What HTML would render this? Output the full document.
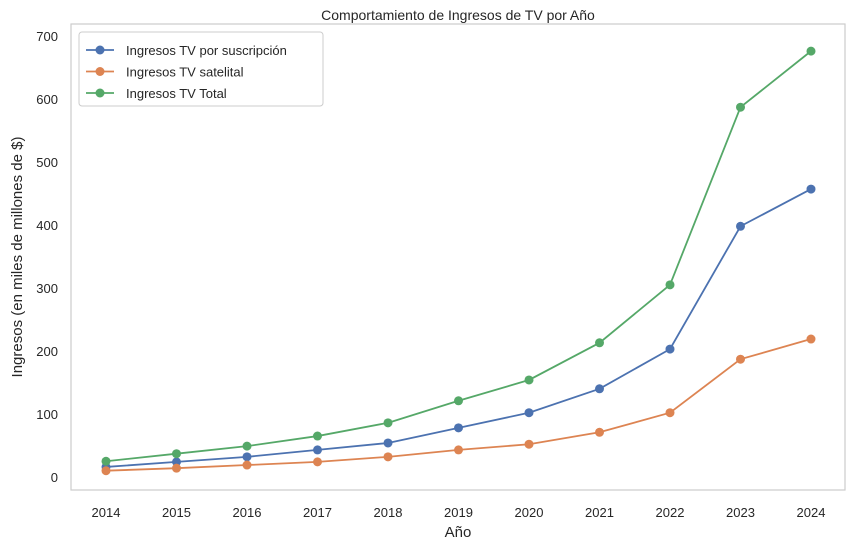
<!DOCTYPE html>
<html><head><meta charset="utf-8"><style>
body{margin:0;background:#fff;}
svg text{font-family:"Liberation Sans","DejaVu Sans",sans-serif;fill:#262626;}
</style></head><body>
<svg id="chart" width="855" height="550" xmlns="http://www.w3.org/2000/svg">
<rect x="0" y="0" width="855" height="550" fill="#fff"/>
<rect x="71" y="24" width="774" height="466" fill="#fff" stroke="#cccccc" stroke-width="1.2"/>
<text x="458" y="20" font-size="14" text-anchor="middle">Comportamiento de Ingresos de TV por Año</text>
<text x="458" y="537" font-size="15" text-anchor="middle">Año</text>
<text transform="translate(22,257) rotate(-90)" font-size="15" text-anchor="middle">Ingresos (en miles de millones de $)</text>
<g id="ticks"></g><g id="series"></g>
<g>
<rect x="79" y="32" width="244" height="74" rx="3" fill="#fff" stroke="#cccccc" stroke-width="1"/>
<g id="legend"></g>
</g>
</svg>
<script>
const years=[2014,2015,2016,2017,2018,2019,2020,2021,2022,2023,2024];
const suscripcion=[16,24,32,43,54,78,102,140,203,398,457];
const satelital=[10,14,19,24,32,43,52,71,102,187,219];
const total=[25,37,49,65,86,121,154,213,305,587,676];
const yTicks=[0,100,200,300,400,500,600,700];
const seriesNames=["Ingresos TV por suscripción","Ingresos TV satelital","Ingresos TV Total"];
const colors=["#4c72b0","#dd8452","#55a868"];
const NS="http://www.w3.org/2000/svg";
function xs(i){return 106+(811-106)*(years[i]-years[0])/(years[years.length-1]-years[0]);}
function ys(v){return 477-v*(477-36)/700;}
function mk(t,a,p){const e=document.createElementNS(NS,t);for(const k in a)e.setAttribute(k,a[k]);p.appendChild(e);return e;}
const tk=document.getElementById('ticks');
years.forEach((y,i)=>{const t=mk('text',{x:xs(i),y:517,'font-size':13,'text-anchor':'middle'},tk);t.textContent=y;

});
yTicks.forEach(v=>{const t=mk('text',{x:58,y:ys(v)+5,'font-size':13,'text-anchor':'end'},tk);t.textContent=v;

});
const sg=document.getElementById('series');
[suscripcion,satelital,total].forEach((d,s)=>{
const g=mk('g',{},sg);


mk('polyline',{points:d.map((v,i)=>xs(i)+','+ys(v)).join(' '),fill:'none',stroke:colors[s],'stroke-width':1.8},g);
d.forEach((v,i)=>{const c=mk('circle',{cx:xs(i),cy:ys(v),r:4.5,fill:colors[s]},g);

});
});
const lg=document.getElementById('legend');
seriesNames.forEach((n,s)=>{const y=50+s*21.5;
const g=mk('g',{},lg);


mk('line',{x1:86,y1:y,x2:114,y2:y,stroke:colors[s],'stroke-width':1.8},g);
mk('circle',{cx:100,cy:y,r:4.5,fill:colors[s]},g);
const t=mk('text',{x:126,y:y+5,'font-size':13},g);t.textContent=n;});
</script>
</body></html>
